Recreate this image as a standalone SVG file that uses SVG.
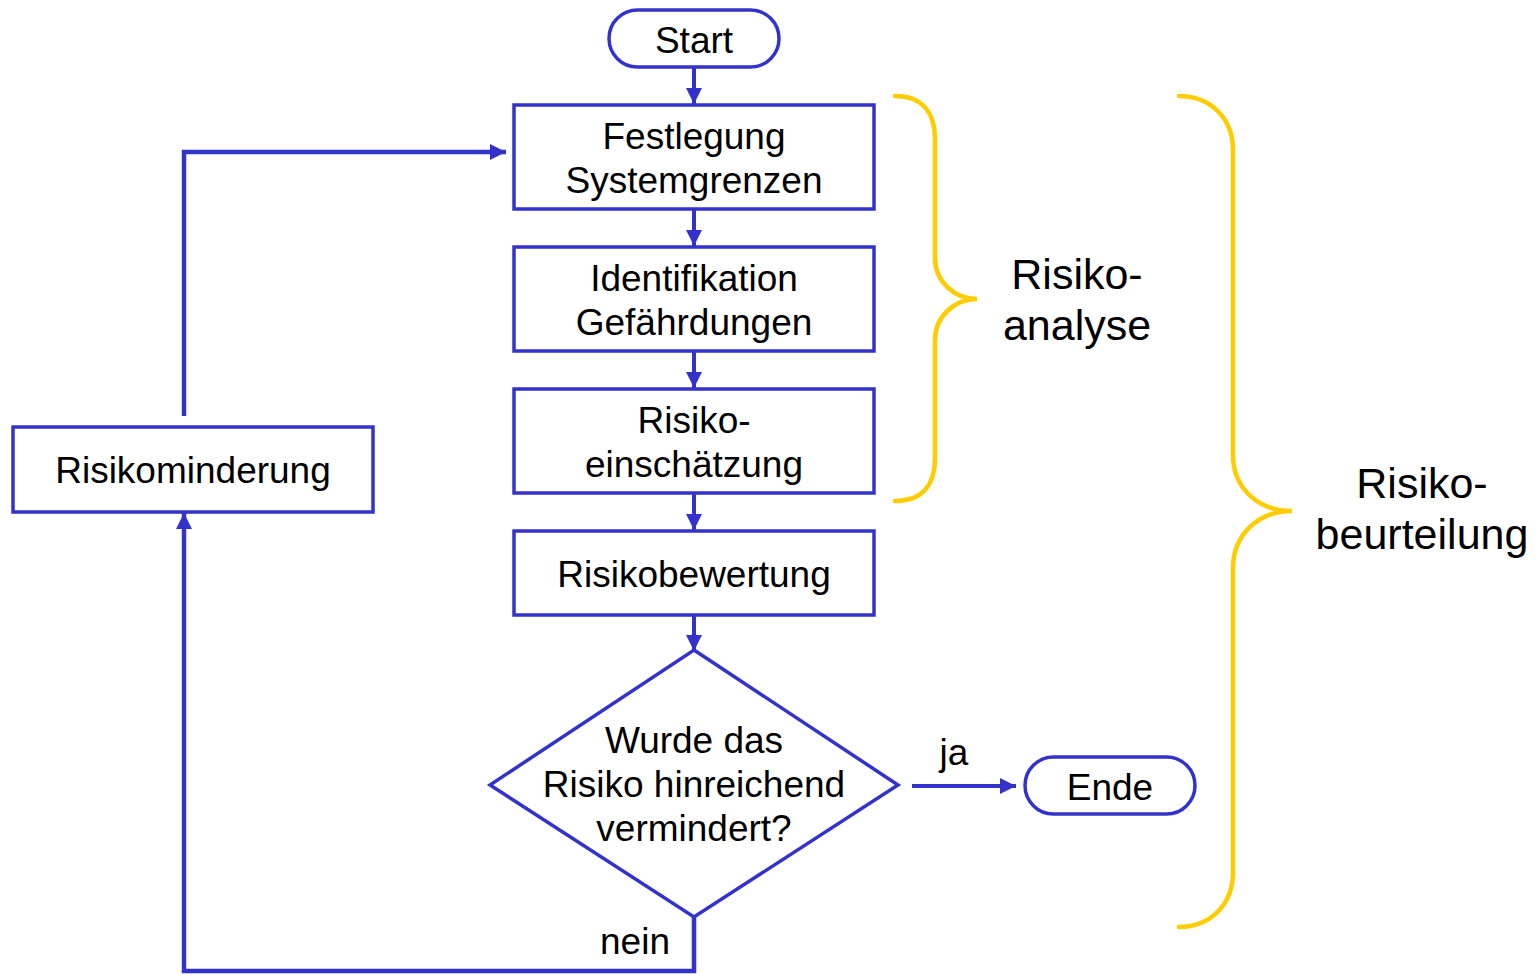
<svg xmlns="http://www.w3.org/2000/svg" width="1538" height="974" viewBox="0 0 1538 974">
<style>
.box{fill:#fff;stroke:#3333CC;stroke-width:3.5}
.con{fill:none;stroke:#3333CC;stroke-width:4}
.loop{fill:none;stroke:#3333CC;stroke-width:4.5}
.brace{fill:none;stroke:#FFCC00;stroke-width:4.5;stroke-linecap:round}
.t{font-family:"Liberation Sans",Arial,sans-serif;font-size:37px;fill:#000;text-anchor:middle}
.tl{font-family:"Liberation Sans",Arial,sans-serif;font-size:43px;fill:#000;text-anchor:middle}
</style>
<defs>
<marker id="ah" markerUnits="userSpaceOnUse" markerWidth="16" markerHeight="16" viewBox="0 0 14 14" refX="14" refY="7" orient="auto">
<path d="M0,0 L14,7 L0,14 z" fill="#3333CC"/>
</marker>
</defs>
<rect width="1538" height="974" fill="#fff"/>
<g id="connectors">
<path class="con" d="M694,67 V104" marker-end="url(#ah)"/>
<path class="con" d="M694,209 V246" marker-end="url(#ah)"/>
<path class="con" d="M694,351 V388" marker-end="url(#ah)"/>
<path class="con" d="M694,493 V530" marker-end="url(#ah)"/>
<path class="con" d="M694,615 V651" marker-end="url(#ah)"/>
<path class="con" d="M912,786 H1016" marker-end="url(#ah)"/>
<path class="loop" d="M694,917 V971 H184 V513" marker-end="url(#ah)"/>
<path class="loop" d="M184,416 V152 H506" marker-end="url(#ah)"/>
<text class="t" x="954" y="765">ja</text>
<text class="t" x="635" y="954">nein</text>
</g>
<g id="start">
<rect class="box" x="609" y="10" width="170" height="57" rx="28.5"/>
<text class="t" x="694" y="53">Start</text>
</g>
<g id="festlegung">
<rect class="box" x="514" y="105" width="360" height="104"/>
<text class="t" x="694" y="149">Festlegung</text>
<text class="t" x="694" y="193">Systemgrenzen</text>
</g>
<g id="identifikation">
<rect class="box" x="514" y="247" width="360" height="104"/>
<text class="t" x="694" y="291">Identifikation</text>
<text class="t" x="694" y="335">Gefährdungen</text>
</g>
<g id="einschaetzung">
<rect class="box" x="514" y="389" width="360" height="104"/>
<text class="t" x="694" y="433">Risiko-</text>
<text class="t" x="694" y="477">einschätzung</text>
</g>
<g id="bewertung">
<rect class="box" x="514" y="531" width="360" height="84"/>
<text class="t" x="694" y="587">Risikobewertung</text>
</g>
<g id="entscheidung">
<polygon class="box" points="694,650 898,785 694,917 490,785"/>
<text class="t" x="694" y="753">Wurde das</text>
<text class="t" x="694" y="797">Risiko hinreichend</text>
<text class="t" x="694" y="841">vermindert?</text>
</g>
<g id="ende">
<rect class="box" x="1025" y="757" width="170" height="57" rx="28.5"/>
<text class="t" x="1110" y="800">Ende</text>
</g>
<g id="minderung">
<rect class="box" x="13" y="427" width="360" height="85"/>
<text class="t" x="193" y="483">Risikominderung</text>
</g>
<g id="risikoanalyse">
<path class="brace" d="M895,96 C920,96 935,110 935,140 V258 C935,282 955,299 977,299 C955,299 935,316 935,340 V458 C935,487 920,501 895,501"/>
<text class="tl" x="1077" y="289">Risiko-</text>
<text class="tl" x="1077" y="340">analyse</text>
</g>
<g id="risikobeurteilung">
<path class="brace" d="M1179,96 C1210,96 1233,118 1233,150 V455 C1233,488 1258,511 1292,511 C1258,511 1233,535 1233,568 V872 C1233,905 1210,927 1179,927"/>
<text class="tl" x="1422" y="498">Risiko-</text>
<text class="tl" x="1422" y="549">beurteilung</text>
</g>
</svg>
